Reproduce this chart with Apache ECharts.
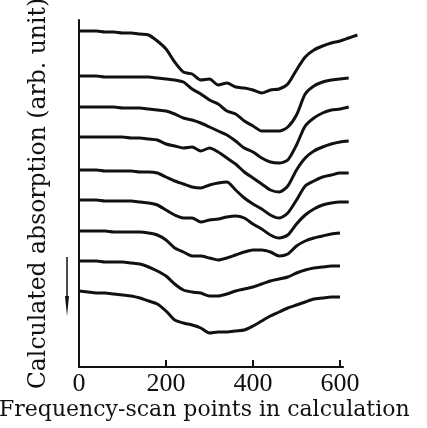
<!DOCTYPE html>
<html>
<head>
<meta charset="utf-8">
<script src="https://cdn.jsdelivr.net/npm/echarts@6/dist/echarts.min.js"></script>
<style>
  html, body { margin: 0; padding: 0; background: #fff; }
  #chart { width: 427px; height: 428px; }
</style>
</head>
<body>
<div id="chart"></div>
<script>
// frequency-scan points (x), step 20
const scanPoints = [0, 20, 40, 60, 80, 100, 120, 140, 160, 180, 200, 220, 240, 260, 280, 300,
  320, 340, 360, 380, 400, 420, 440, 460, 480, 500, 520, 540, 560, 580, 600, 620, 640];
const xTicks = [0, 200, 400, 600];
const axisEnd = 607;

// calculated absorption, arbitrary units, curves from top to bottom
const curve1 = [336, 336, 336, 335, 335, 334, 334, 333, 332, 326, 318, 305, 295, 293, 287, 288,
  282, 284, 280, 279, 277, 274, 277, 278, 283, 297, 310, 317, 321, 324, 326, 329, 332];
const curve2 = [291, 291, 291, 290, 290, 290, 290, 290, 290, 289, 288, 287, 285, 278, 273, 267,
  263, 256, 253, 246, 241, 236, 236, 236, 240, 252, 273, 281, 285, 287, 288, 289];
const curve3 = [260, 260, 260, 260, 260, 259, 259, 259, 258, 257, 256, 253, 249, 247, 244, 240,
  236, 232, 226, 219, 215, 209, 205, 204, 207, 222, 241, 249, 254, 257, 258, 260];
const curve4 = [230, 230, 230, 230, 230, 230, 229, 229, 228, 227, 223, 221, 219, 220, 216, 219,
  215, 209, 203, 195, 189, 183, 177, 175, 181, 197, 209, 216, 220, 223, 225, 226];
const curve5 = [197, 197, 197, 196, 196, 196, 196, 195, 195, 194, 190, 186, 183, 180, 179, 182,
  184, 185, 177, 169, 163, 158, 152, 149, 154, 167, 181, 186, 190, 192, 194, 194];
const curve6 = [167, 167, 167, 166, 166, 166, 166, 165, 164, 162, 157, 152, 149, 149, 145, 147,
  148, 150, 151, 149, 143, 138, 132, 129, 132, 143, 152, 158, 162, 164, 165, 165];
const curve7 = [136, 136, 136, 136, 135, 135, 135, 135, 134, 132, 127, 119, 115, 111, 111, 109,
  107, 109, 112, 115, 117, 117, 115, 111, 113, 121, 126, 129, 131, 133, 134];
const curve8 = [106, 106, 106, 105, 105, 105, 104, 103, 100, 96, 91, 83, 77, 75, 74, 71,
  71, 73, 76, 78, 80, 83, 86, 88, 90, 94, 97, 99, 100, 101, 101];
const curve9 = [76, 75, 74, 74, 73, 72, 71, 69, 66, 63, 56, 47, 44, 42, 39, 34,
  35, 35, 36, 37, 41, 46, 51, 55, 59, 62, 65, 68, 69, 70, 70];

const curves = [curve1, curve2, curve3, curve4, curve5, curve6, curve7, curve8, curve9];
const font = "Liberation Serif";
const nameFont = "DejaVu Serif";
const ink = "#111";
const pxPerUnit = 0.435;
const gridLeft = 79, gridTop = 20, gridHeight = 347;

const series = curves.map(function (vals) {
  return {
    type: "line",
    xAxisIndex: 0,
    yAxisIndex: 0,
    data: vals.map(function (v, i) { return [scanPoints[i], v]; }),
    showSymbol: false,
    smooth: 0.25,
    clip: false,
    silent: true,
    lineStyle: { color: ink, width: 3 },
  };
});
// x axis baseline drawn as a line on the axis scale
series.push({
  type: "line",
  xAxisIndex: 1,
  yAxisIndex: 1,
  data: [[0, 0], [axisEnd, 0]],
  showSymbol: false,
  clip: false,
  silent: true,
  z: 5,
  lineStyle: { color: ink, width: 2 },
});

const chart = echarts.init(document.getElementById("chart"));
chart.setOption({
  backgroundColor: "#fff",
  animation: false,
  title: {
    text: "Frequency-scan points in calculation",
    left: -1,
    top: 399,
    padding: 0,
    textStyle: { fontFamily: nameFont, fontSize: 22, fontWeight: "normal", color: ink },
  },
  grid: [
    // curves (extend past the drawn axis)
    { left: gridLeft, top: gridTop, width: 640 * pxPerUnit, height: gridHeight, outerBoundsMode: "none" },
    // drawn x axis, shorter
    { left: gridLeft, top: gridTop, width: axisEnd * pxPerUnit, height: gridHeight, outerBoundsMode: "none" },
  ],
  xAxis: [
    { gridIndex: 0, type: "value", min: 0, max: 640, show: false },
    {
      gridIndex: 1,
      type: "value",
      min: 0,
      max: axisEnd,
      axisLine: { show: true, onZero: false, lineStyle: { color: ink, width: 2 } },
      axisTick: { show: true, inside: true, length: 7, customValues: xTicks, lineStyle: { color: ink, width: 2 } },
      axisLabel: { margin: 4, fontFamily: font, fontSize: 26, color: ink, customValues: xTicks },
      splitLine: { show: false },
    },
  ],
  yAxis: [
    {
      gridIndex: 0,
      type: "value",
      min: 0,
      max: 347,
      name: "Calculated absorption (arb. unit)",
      nameLocation: "middle",
      nameRotate: 90,
      nameGap: 28,
      nameTextStyle: { fontFamily: nameFont, fontSize: 23.5, color: ink },
      axisLine: { show: true, onZero: false, lineStyle: { color: ink, width: 2 } },
      axisTick: { show: false },
      axisLabel: { show: false },
      splitLine: { show: false },
    },
    { gridIndex: 1, type: "value", min: 0, max: 347, show: false },
  ],
  graphic: [
    // backup baseline along the grid bottom
    {
      type: "line",
      z: 100,
      shape: { x1: gridLeft, y1: gridTop + gridHeight, x2: gridLeft + axisEnd * pxPerUnit, y2: gridTop + gridHeight },
      style: { stroke: ink, lineWidth: 2 },
    },
    // downward arrow beside the lower curves
    { type: "line", shape: { x1: 67, y1: 257, x2: 67, y2: 300 }, style: { stroke: ink, lineWidth: 1.5 } },
    { type: "polygon", shape: { points: [[65, 296], [69, 296], [67, 316]] }, style: { fill: ink } },
  ],
  series: series,
});
</script>
</body>
</html>
